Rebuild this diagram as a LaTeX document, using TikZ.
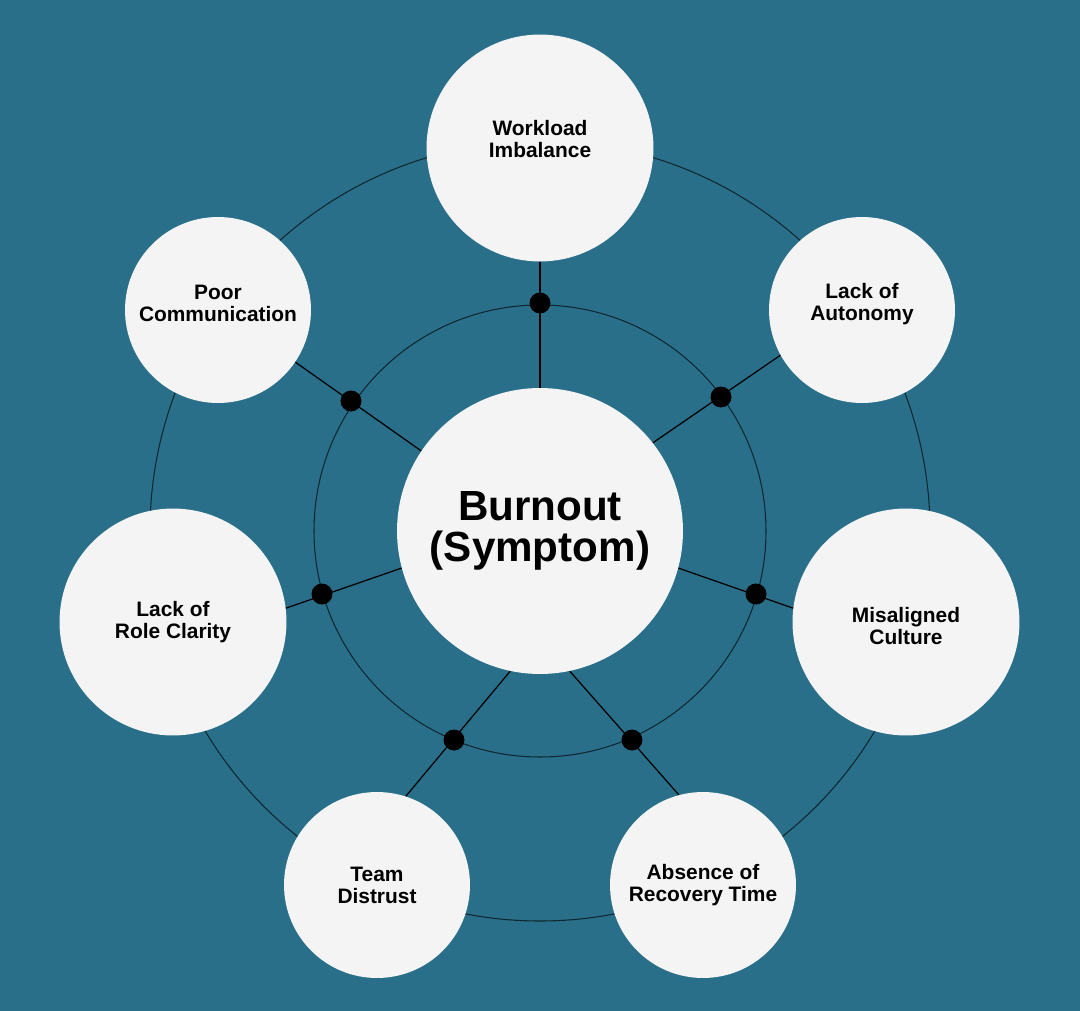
\documentclass[tikz,border=0pt]{standalone}
\usepackage{fontspec}
\setmainfont{Liberation Sans}
\definecolor{bgteal}{HTML}{2A6F8A}
\definecolor{disc}{HTML}{F4F4F4}

\begin{document}
\begin{tikzpicture}
  [x=0.02cm,y=-0.02cm,
   every node/.style={circle,fill=disc,align=center,inner sep=0pt,
     font=\bfseries\fontsize{11.9}{12.5}\selectfont},
   big/.style={minimum size=4.54cm},
   small/.style={minimum size=3.72cm},
   hub/.style={minimum size=5.72cm,font=\bfseries\fontsize{24}{23.5}\selectfont},
   dot/.style={fill=black,minimum size=0.42cm},
   ring/.style={draw=black!65!bgteal,line width=0.6pt},
   spoke/.style={draw=black,line width=0.7pt}]
  \fill[bgteal] (0,0) rectangle (1080,1011);
  \useasboundingbox (0,0) rectangle (1080,1011);

  % rings behind the discs
  \draw[ring] (540,531) circle[radius=390];
  \draw[ring] (540,531) circle[radius=226];

  \node[hub] (n0) at (540,531) {Burnout\\(Symptom)};
  \node[big,label={[yshift=5pt]center:Workload\\Imbalance}] (n1) at (540,148) {};
  \node[small,label={[yshift=3.5pt]center:Lack of\\Autonomy}] (n2) at (862,310) {};
  \node[big,label={[yshift=-2.3pt]center:Misaligned\\Culture}] (n3) at (906,622) {};
  \node[small] (n4) at (703,885) {Absence of\\Recovery Time};
  \node[small] (n5) at (377,885) {Team\\Distrust};
  \node[big] (n6) at (173,622) {Lack of\\Role Clarity};
  \node[small,label={[yshift=4pt]center:Poor\\Communication}] (n7) at (218,310) {};

  \draw[spoke] (n0.90) -- (n1.-90);
  \draw[spoke] (n0.38) -- (n2.-151);
  \draw[spoke] (n0.-15) -- (n3.173);
  \draw[spoke] (n0.-78) -- (n4.105);
  \draw[spoke] (n0.-102) -- (n5.72);
  \draw[spoke] (n0.-165) -- (n6.7);
  \draw[spoke] (n0.146) -- (n7.-34);

  % dots where the spokes cross the inner ring
  \node[dot] (d1) at (540,303) {};
  \node[dot] (d2) at (721,397) {};
  \node[dot] (d3) at (756,594) {};
  \node[dot] (d4) at (632,740) {};
  \node[dot] (d5) at (454,740) {};
  \node[dot] (d6) at (322,594) {};
  \node[dot] (d7) at (351,401) {};
\end{tikzpicture}
\end{document}
